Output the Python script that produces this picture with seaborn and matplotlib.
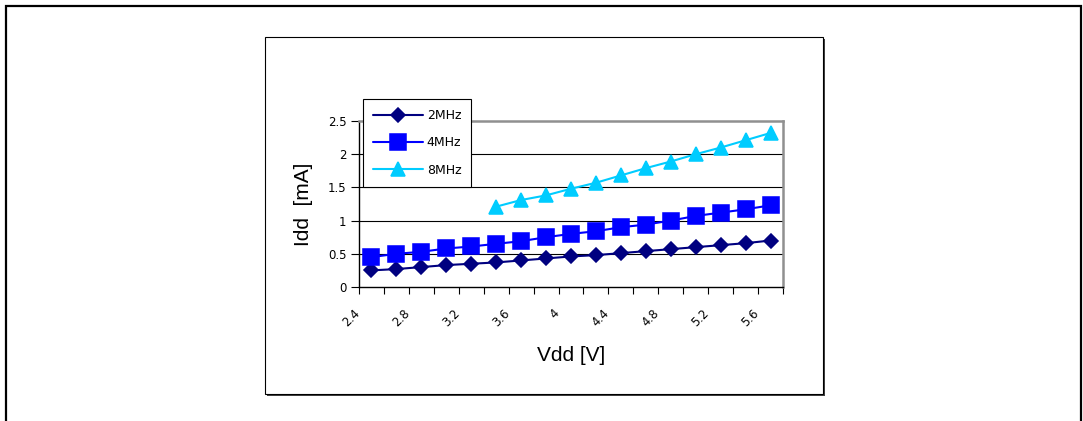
import numpy as np
import pandas as pd
import matplotlib
matplotlib.use("Agg")
import matplotlib.pyplot as plt
import matplotlib.transforms as mtransforms
from matplotlib.patches import Rectangle
import seaborn as sns

# data
vdd = ["2.4", "2.6", "2.8", "3.0", "3.2", "3.4", "3.6", "3.8", "4.0",
       "4.2", "4.4", "4.6", "4.8", "5.0", "5.2", "5.4", "5.6"]
idd_2mhz = [0.25, 0.27, 0.30, 0.33, 0.35, 0.37, 0.40, 0.43, 0.46,
            0.48, 0.51, 0.54, 0.57, 0.60, 0.63, 0.66, 0.70]
idd_4mhz = [0.45, 0.50, 0.53, 0.58, 0.61, 0.65, 0.69, 0.75, 0.80,
            0.84, 0.90, 0.94, 1.00, 1.07, 1.12, 1.17, 1.23]
vdd_8mhz = vdd[5:]
idd_8mhz = [1.21, 1.31, 1.38, 1.48, 1.57, 1.68, 1.79, 1.89, 2.00,
            2.10, 2.21, 2.32]
xtick_labels = ["2.4", "2.8", "3.2", "3.6", "4", "4.4", "4.8", "5.2", "5.6"]
yticks = [0, 0.5, 1, 1.5, 2, 2.5]
ytick_labels = ["0", "0.5", "1", "1.5", "2", "2.5"]

sns.set_theme(style="white")
plt.rcParams['font.family'] = ['Liberation Sans', 'DejaVu Sans']
plt.rcParams['text.color'] = 'black'
plt.rcParams['axes.labelcolor'] = 'black'
plt.rcParams['xtick.color'] = 'black'
plt.rcParams['ytick.color'] = 'black'
small = ['DejaVu Sans']

W, H = 1083, 421
fig = plt.figure(figsize=(W / 100, H / 100), dpi=100)

# outer frame (bottom runs off the picture)
fig.add_artist(Rectangle((6 / W, -0.2), (1081 - 6) / W, 1.2 - 6 / H,
                         transform=fig.transFigure, fill=False,
                         edgecolor="black", linewidth=1.6, clip_on=False))
# chart box with shadow
fig.add_artist(Rectangle((267 / W, 1 - 396 / H), 558 / W, 357 / H,
                         transform=fig.transFigure, facecolor="#404040",
                         edgecolor="none"))
fig.add_artist(Rectangle((265 / W, 1 - 394 / H), 558 / W, 357 / H,
                         transform=fig.transFigure, facecolor="white",
                         edgecolor="black", linewidth=0.8))

ax = fig.add_axes([359 / W, 1 - 287 / H, (783 - 359) / W, (287 - 121) / H])
ax.set_zorder(2)

series = [
    ("2MHz", vdd, idd_2mhz, "#000080", "D", 7.5),
    ("4MHz", vdd, idd_4mhz, "#0000FF", "s", 11.5),
    ("8MHz", vdd_8mhz, idd_8mhz, "#00CCFF", "^", 10),
]
handles = []
for name, xs, ys, col, mk, ms in series:
    df = pd.DataFrame({"Vdd": xs, "Idd": ys})
    n0 = len(ax.lines)
    sns.pointplot(data=df, x="Vdd", y="Idd", order=vdd, color=col,
                  marker=mk, markersize=ms, linewidth=1.5,
                  errorbar=None, ax=ax)
    ln = ax.lines[n0]
    ln.set_markeredgecolor(col)
    handles.append(ln)

ax.set_xlim(-0.5, len(vdd) - 0.5)
ax.set_ylim(0, 2.5)
ax.set_yticks(yticks)
ax.set_yticklabels(ytick_labels, fontsize=8.5, family=small)
ax.set_xticks(range(0, len(vdd), 2))
ax.set_xticklabels(xtick_labels, fontsize=8.5, family=small, rotation=45,
                   ha="right")
ax.set_xticks(np.arange(-0.5, len(vdd) + 0.5, 1), minor=True)
ax.tick_params(axis="x", which="major", length=0, pad=14)
ax.tick_params(axis="x", which="minor", length=5, width=0.8,
               color="black", direction="out", bottom=True)
ax.tick_params(axis="y", length=6, width=0.8, color="black",
               direction="out", left=True, pad=3)
# Excel puts the rotated labels a little left of the category
shift = mtransforms.ScaledTranslation(-9 / 100, 0, fig.dpi_scale_trans)
for lab in ax.get_xticklabels():
    lab.set_transform(lab.get_transform() + shift)

for y in [0.5, 1, 1.5, 2]:
    ax.axhline(y, color="black", linewidth=0.8, zorder=0)

ax.spines["left"].set_color("black")
ax.spines["bottom"].set_color("black")
ax.spines["left"].set_linewidth(1)
ax.spines["bottom"].set_linewidth(1)
for s in ["top", "right"]:
    ax.spines[s].set_color("#909090")
    ax.spines[s].set_linewidth(1.8)
    ax.spines[s].set_visible(True)

ax.set_xlabel("Vdd [V]", fontsize=15, labelpad=12)
ax.set_ylabel("Idd  [mA]", fontsize=15, labelpad=11)

leg = fig.legend(handles, [s[0] for s in series], loc="upper left",
                 bbox_to_anchor=(363 / W, 1 - 99 / H),
                 prop={"family": small, "size": 9},
                 frameon=True, fancybox=False, framealpha=1,
                 edgecolor="black", handlelength=4, labelspacing=1.15,
                 borderpad=0.8, handletextpad=0.3, borderaxespad=0)
leg.get_frame().set_linewidth(0.8)
leg.set_zorder(5)

fig.savefig("out.png", dpi=100)
